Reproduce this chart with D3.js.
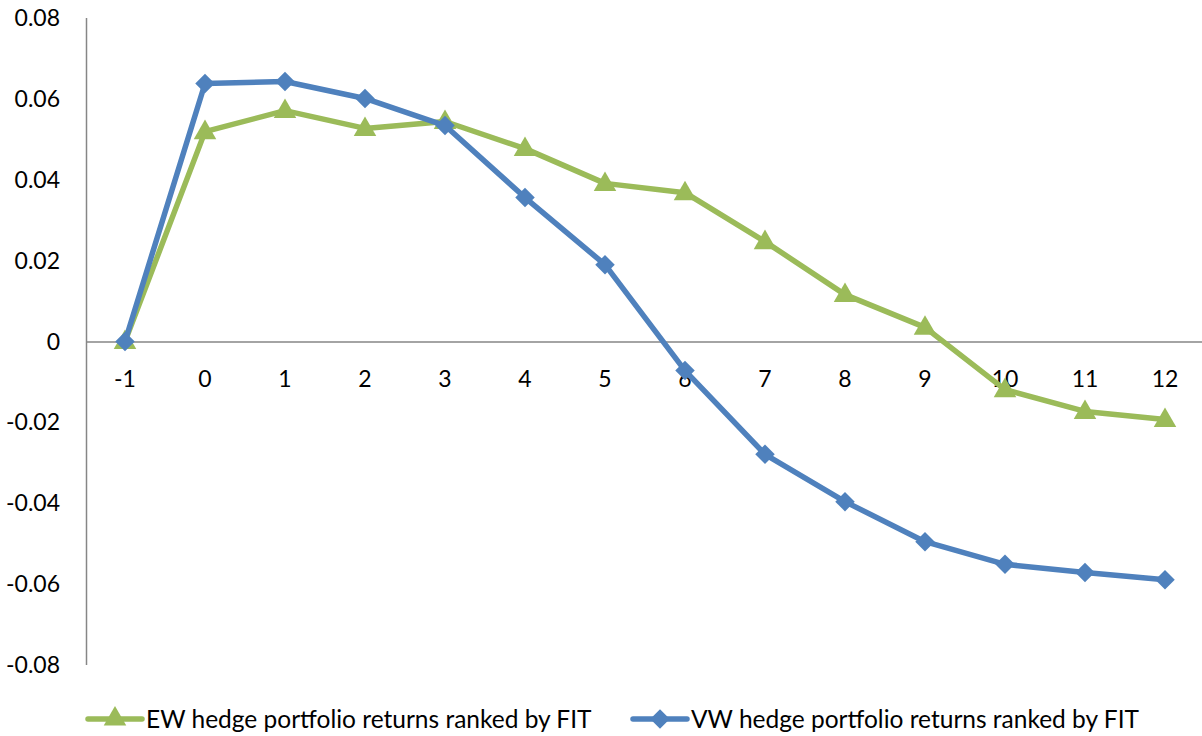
<!DOCTYPE html>
<html>
<head>
<meta charset="utf-8">
<script src="https://cdn.jsdelivr.net/npm/d3@7"></script>
<style>
  body { margin: 0; background: #fff; }
  svg text { font-family: Lato, "Open Sans", sans-serif; fill: #000; }
</style>
</head>
<body>
<div id="chart"></div>
<script>
const months = ['-1', '0', '1', '2', '3', '4', '5', '6', '7', '8', '9', '10', '11', '12']
const ewReturns = [0, 0.0519, 0.0571, 0.0527, 0.0544, 0.0477, 0.0391, 0.0368, 0.0247, 0.0116, 0.0035, -0.0119, -0.0173, -0.0193]
const vwReturns = [0, 0.0638, 0.0643, 0.0601, 0.0534, 0.0356, 0.0190, -0.0072, -0.0279, -0.0396, -0.0495, -0.0551, -0.0571, -0.0589]
const yTicks = [-0.08, -0.06, -0.04, -0.02, 0, 0.02, 0.04, 0.06, 0.08]
const seriesNames = ['EW hedge portfolio returns ranked by FIT', 'VW hedge portfolio returns ranked by FIT']

const width = 1202, height = 736
const green = '#9bbb59', blue = '#4f81bd'

const svg = d3.select('#chart').append('svg')
    .attr('width', width)
    .attr('height', height)

const x = d3.scaleBand().domain(months).range([85, 1205])
const y = d3.scaleLinear().domain([-0.08, 0.08]).range([665, 18])
const xc = d => x(d) + x.bandwidth() / 2
const fmt = d3.formatLocale({ decimal: '.', thousands: ',', grouping: [3], currency: ['', ''], minus: '-' }).format('.2f')

// y axis
svg.append('line')
    .attr('x1', 86.5).attr('x2', 86.5)
    .attr('y1', y(0.08)).attr('y2', y(-0.08))
    .attr('stroke', '#868686').attr('stroke-width', 1.5)

svg.selectAll('.ytick').data(yTicks).enter().append('text')
    .attr('class', 'ytick')
    .attr('x', 60)
    .attr('y', d => y(d) + 8)
    .attr('text-anchor', 'end')
    .style('font-size', '23px')
    .text(d => d === 0 ? '0' : fmt(d))

// zero line
svg.append('line')
    .attr('x1', 86).attr('x2', width)
    .attr('y1', y(0) + 0.5).attr('y2', y(0) + 0.5)
    .attr('stroke', '#868686').attr('stroke-width', 1.5)

svg.selectAll('.xtick').data(months).enter().append('text')
    .attr('class', 'xtick')
    .attr('x', d => xc(d))
    .attr('y', y(0) + 45)
    .attr('text-anchor', 'middle')
    .style('font-size', '23px')
    .text(d => d)

const line = d3.line().x((d, i) => xc(months[i])).y(d => y(d))

const triangle = d3.symbol().type(d3.symbolTriangle).size(220)
const diamond = d3.symbol().type(d3.symbolSquare).size(190)

// EW series
svg.append('path')
    .datum(ewReturns)
    .attr('d', line)
    .attr('fill', 'none')
    .attr('stroke', green)
    .attr('stroke-width', 5.5)
    .attr('stroke-linejoin', 'round')

svg.selectAll('.ew-pt').data(ewReturns).enter().append('path')
    .attr('class', 'ew-pt')
    .attr('d', triangle)
    .attr('transform', (d, i) => `translate(${xc(months[i])},${y(d) + 1})`)
    .attr('fill', green)

// VW series
svg.append('path')
    .datum(vwReturns)
    .attr('d', line)
    .attr('fill', 'none')
    .attr('stroke', blue)
    .attr('stroke-width', 5.5)
    .attr('stroke-linejoin', 'round')

svg.selectAll('.vw-pt').data(vwReturns).enter().append('path')
    .attr('class', 'vw-pt')
    .attr('d', diamond)
    .attr('transform', (d, i) => `translate(${xc(months[i])},${y(d)}) rotate(45)`)
    .attr('fill', blue)

// legend
const legend = [
    { name: seriesNames[0], color: green, sym: triangle, x0: 88, rot: 0 },
    { name: seriesNames[1], color: blue, sym: diamond, x0: 633, rot: 45 }
]
const ly = 719
legend.forEach(l => {
    svg.append('line')
        .attr('x1', l.x0).attr('x2', l.x0 + 54)
        .attr('y1', ly).attr('y2', ly)
        .attr('stroke', l.color).attr('stroke-width', 5.5)
        .attr('stroke-linecap', 'round')
    svg.append('path')
        .attr('d', l.sym)
        .attr('transform', `translate(${l.x0 + 27},${ly}) rotate(${l.rot})`)
        .attr('fill', l.color)
    svg.append('text')
        .attr('x', l.x0 + 58)
        .attr('y', ly + 9)
        .style('font-size', '24.5px')
        .text(l.name)
})
</script>
</body>
</html>
